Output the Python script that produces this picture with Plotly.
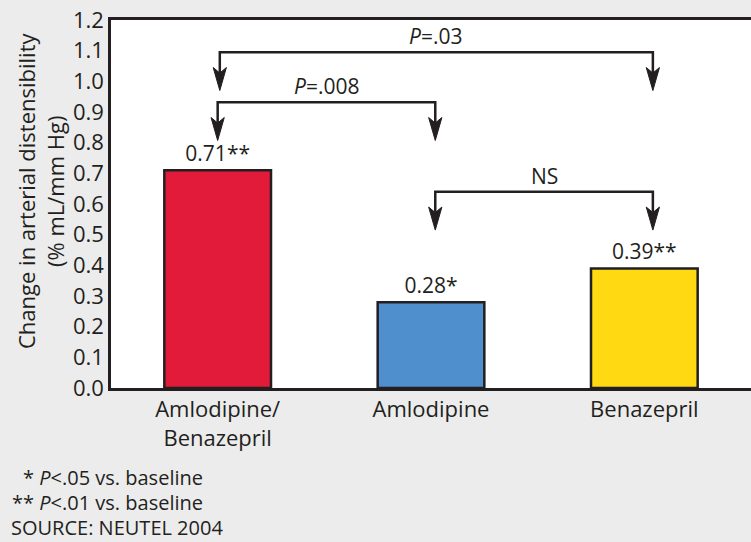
import plotly.graph_objects as go

categories = ["Amlodipine/<br>Benazepril", "Amlodipine", "Benazepril"]
values = [0.71, 0.28, 0.39]
value_labels = ["0.71**", "0.28*", "0.39**"]
colors = ["#e31b3b", "#4f8fcd", "#ffd912"]
tick_vals = [i / 10 for i in range(13)]

# brackets: (x_left, x_right, y_bar, y_tip, label, label_x)
brackets = [
    (0.01, 2.04, 1.095, 0.970, "<i>P</i>=.03", 1.02),
    (0.0, 1.02, 0.932, 0.807, "<i>P</i>=.008", 0.51),
    (1.02, 2.04, 0.640, 0.515, "NS", 1.53),
]

ink = "#231f20"
font = "Open Sans"
x_idx = list(range(len(categories)))

# arrowhead style (in axis units): half width, length, notch depth
HW, HL, NOTCH = 0.031, 0.075, 0.018

fig = go.Figure()
fig.add_trace(go.Bar(
    x=x_idx, y=values, width=0.5,
    marker=dict(color=colors, line=dict(color=ink, width=2.5)),
    text=value_labels, textposition="outside",
    textfont=dict(family=font, size=21, color=ink),
    cliponaxis=False, hoverinfo="skip",
))

for xl, xr, yb, yt, lab, lx in brackets:
    base = yt + HL - NOTCH
    fig.add_trace(go.Scatter(
        x=[xl, xl, xr, xr], y=[base, yb, yb, base], mode="lines",
        line=dict(color=ink, width=2.5), hoverinfo="skip", showlegend=False,
    ))
    for xx in (xl, xr):
        fig.add_shape(
            type="path", xref="x", yref="y",
            path=f"M{xx},{yt} L{xx - HW},{yt + HL} L{xx},{base} L{xx + HW},{yt + HL} Z",
            fillcolor=ink, line=dict(color=ink, width=1),
        )
    fig.add_annotation(
        x=lx, y=yb, xref="x", yref="y", text=lab, showarrow=False,
        yanchor="bottom", yshift=0, font=dict(family=font, size=21, color=ink),
    )

foot = [
    ("* <i>P</i><.05 vs. baseline", 21, 477),
    ("** <i>P</i><.01 vs. baseline", 10, 502),
    ("SOURCE: NEUTEL 2004", 9, 527),
]
for txt, px, py in foot:
    fig.add_annotation(
        x=(px - 111) / 640, y=(388 - py) / 368, xref="paper", yref="paper",
        xanchor="left", yanchor="middle", text=txt, showarrow=False,
        font=dict(family=font, size=20, color=ink),
    )

# y-axis title as rotated annotation
fig.add_annotation(
    x=(40 - 111) / 640, y=(388 - 191) / 368, xref="paper", yref="paper",
    xanchor="center", yanchor="middle", textangle=-90, showarrow=False,
    text="Change in arterial distensibility<br>(% mL/mm Hg)",
    font=dict(family=font, size=22, color=ink),
)

fig.update_layout(
    width=751, height=542,
    margin=dict(l=111, r=0, t=20, b=154),
    paper_bgcolor="#ececec", plot_bgcolor="white",
    showlegend=False,
    font=dict(family=font, size=21, color=ink),
)
fig.update_xaxes(
    range=[-0.5, 2.5], tickvals=x_idx, ticktext=categories,
    showline=True, linecolor=ink, linewidth=2.5, mirror=True,
    showgrid=False, ticks="", tickfont=dict(family=font, size=22, color=ink),
    zeroline=False, automargin=False,
)
fig.update_yaxes(
    range=[0, 1.2], tickvals=tick_vals, tickformat=".1f",
    showline=True, linecolor=ink, linewidth=2.5,
    showgrid=False, ticks="", zeroline=False, automargin=False,
    tickfont=dict(family=font, size=22, color=ink), ticklabelstandoff=0,
)

fig.write_html("out.html", config={"displayModeBar": False},
               post_script="document.body.style.margin='0';")
